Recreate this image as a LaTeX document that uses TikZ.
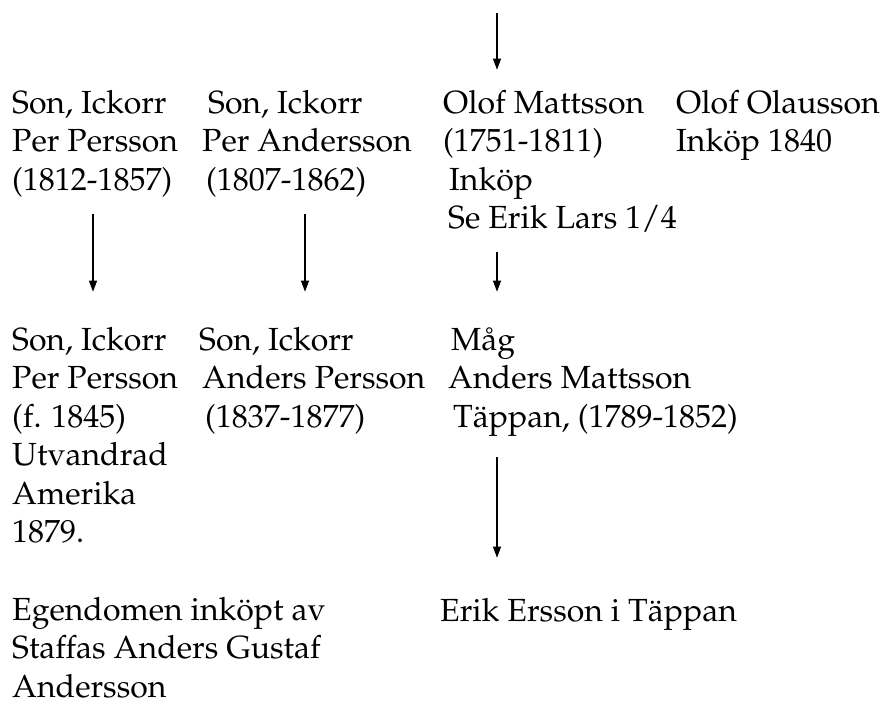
\documentclass[tikz,border=0pt]{standalone}
\usepackage[T1]{fontenc}
\usepackage{mathpazo}
\usepackage{tikz}
\usetikzlibrary{arrows.meta, positioning, calc}

\begin{document}
\begin{tikzpicture}[
    x=1pt, y=-1pt,
    person/.style={anchor=base west, inner sep=0pt, align=left, font=\fontsize{32}{38.5}\selectfont},
    arr/.style={-{Triangle[length=11pt, width=8pt]}, line width=1.2pt}
]
    \useasboundingbox (0,0) rectangle (884,707);

    % Row 1 (placed at the baseline of the last line)
    \node[person] (perA) at (12,190) {Son, Ickorr\\Per Persson\\(1812-1857)};
    \node[person] (perB) at (202,190) {\hspace*{6pt}Son, Ickorr\\Per Andersson\\\hspace*{4pt}(1807-1862)};
    \node[person] (olofM) at (443,228.5) {Olof Mattsson\\(1751-1811)\\\hspace*{6pt}Ink\"op\\\hspace*{5pt}Se Erik Lars 1/4};
    \node[person] (olofO) at (676,151.5) {Olof Olausson\\Ink\"op 1840};

    % Row 2
    \node[person] (sonA) at (12,542.5) {Son, Ickorr\\Per Persson\\(f. 1845)\\Utvandrad\\Amerika\\1879.};
    \node[person] (sonB) at (199,427) {Son, Ickorr\\\hspace*{3pt}Anders Persson\\\hspace*{6pt}(1837-1877)};
    \node[person] (mag) at (448,427) {\hspace*{3pt}M\aa g\\Anders Mattsson\\\hspace*{5pt}T\"appan, (1789-1852)};

    % Row 3
    \node[person] (egen) at (12,697) {Egendomen ink\"opt av\\Staffas Anders Gustaf\\Andersson};
    \node[person] (erik) at (440,621) {Erik Ersson i T\"appan};

    % Arrows
    \coordinate (colA) at (93,0);
    \coordinate (colB) at (305,0);
    \coordinate (colC) at (497,0);
    \coordinate (top) at (497,13);
    \draw[arr, shorten >=20pt] (top) -- (colC |- olofM.north);
    \draw[arr, shorten <=17pt, shorten >=35pt] (colA |- perA.south) -- (colA |- sonA.north);
    \draw[arr, shorten <=17pt, shorten >=35pt] (colB |- perB.south) -- (colB |- sonB.north);
    \draw[arr, shorten <=19pt, shorten >=35pt] (colC |- olofM.south) -- (colC |- mag.north);
    \draw[arr, shorten <=21pt, shorten >=40pt] (colC |- mag.south) -- (colC |- erik.north);

\end{tikzpicture}
\end{document}
